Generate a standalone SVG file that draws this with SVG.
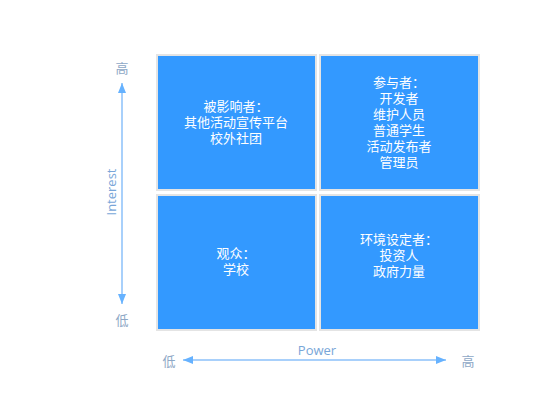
<svg xmlns="http://www.w3.org/2000/svg" width="533" height="412" viewBox="0 0 533 412">
<style>
.box{fill:#3399ff;stroke:#e4e4e4;stroke-width:2}
.t{font-family:"Noto Sans CJK SC",sans-serif;font-size:13px;fill:#ffffff;text-anchor:middle}
.ax{font-family:"Noto Sans CJK SC",sans-serif;font-size:13px;fill:#8ea8c6;text-anchor:middle}
.al{font-family:"Open Sans","Liberation Sans",sans-serif;font-size:13px;fill:#78a6d8;text-anchor:middle}
.line{stroke:#a8d0fb;stroke-width:2;fill:none}
</style>
<defs>
<marker id="ah" viewBox="0 0 10 8" refX="10" refY="4" markerWidth="10" markerHeight="8" markerUnits="userSpaceOnUse" orient="auto-start-reverse">
<path d="M0,0 L10,4 L0,8 Z" fill="#66b2ff"/>
</marker>
</defs>
<g id="connectors">
<line class="line" x1="122" y1="83" x2="122" y2="304" marker-start="url(#ah)" marker-end="url(#ah)"/>
<line class="line" x1="183" y1="360" x2="446" y2="360" marker-start="url(#ah)" marker-end="url(#ah)"/>
</g>
<g id="axis-labels">
<text class="ax" x="122" y="73">高</text>
<text class="ax" x="122" y="325">低</text>
<text class="ax" x="169" y="366">低</text>
<text class="ax" x="468" y="366">高</text>
<text class="al" x="0" y="0" transform="translate(116,192) rotate(-90)">Interest</text>
<text class="al" x="317" y="355">Power</text>
</g>
<g id="influenced">
<rect class="box" x="157" y="55" width="159" height="135"/>
<text class="t" x="236" y="111">被影响者：</text>
<text class="t" x="236" y="127">其他活动宣传平台</text>
<text class="t" x="236" y="143">校外社团</text>
</g>
<g id="participants">
<rect class="box" x="320" y="55" width="159" height="135"/>
<text class="t" x="399" y="87">参与者：</text>
<text class="t" x="399" y="103">开发者</text>
<text class="t" x="399" y="119">维护人员</text>
<text class="t" x="399" y="135">普通学生</text>
<text class="t" x="399" y="151">活动发布者</text>
<text class="t" x="399" y="167">管理员</text>
</g>
<g id="audience">
<rect class="box" x="157" y="195" width="159" height="135"/>
<text class="t" x="236" y="258">观众：</text>
<text class="t" x="236" y="274">学校</text>
</g>
<g id="context-setters">
<rect class="box" x="320" y="195" width="159" height="135"/>
<text class="t" x="399" y="244">环境设定者：</text>
<text class="t" x="399" y="260">投资人</text>
<text class="t" x="399" y="276">政府力量</text>
</g>
</svg>
